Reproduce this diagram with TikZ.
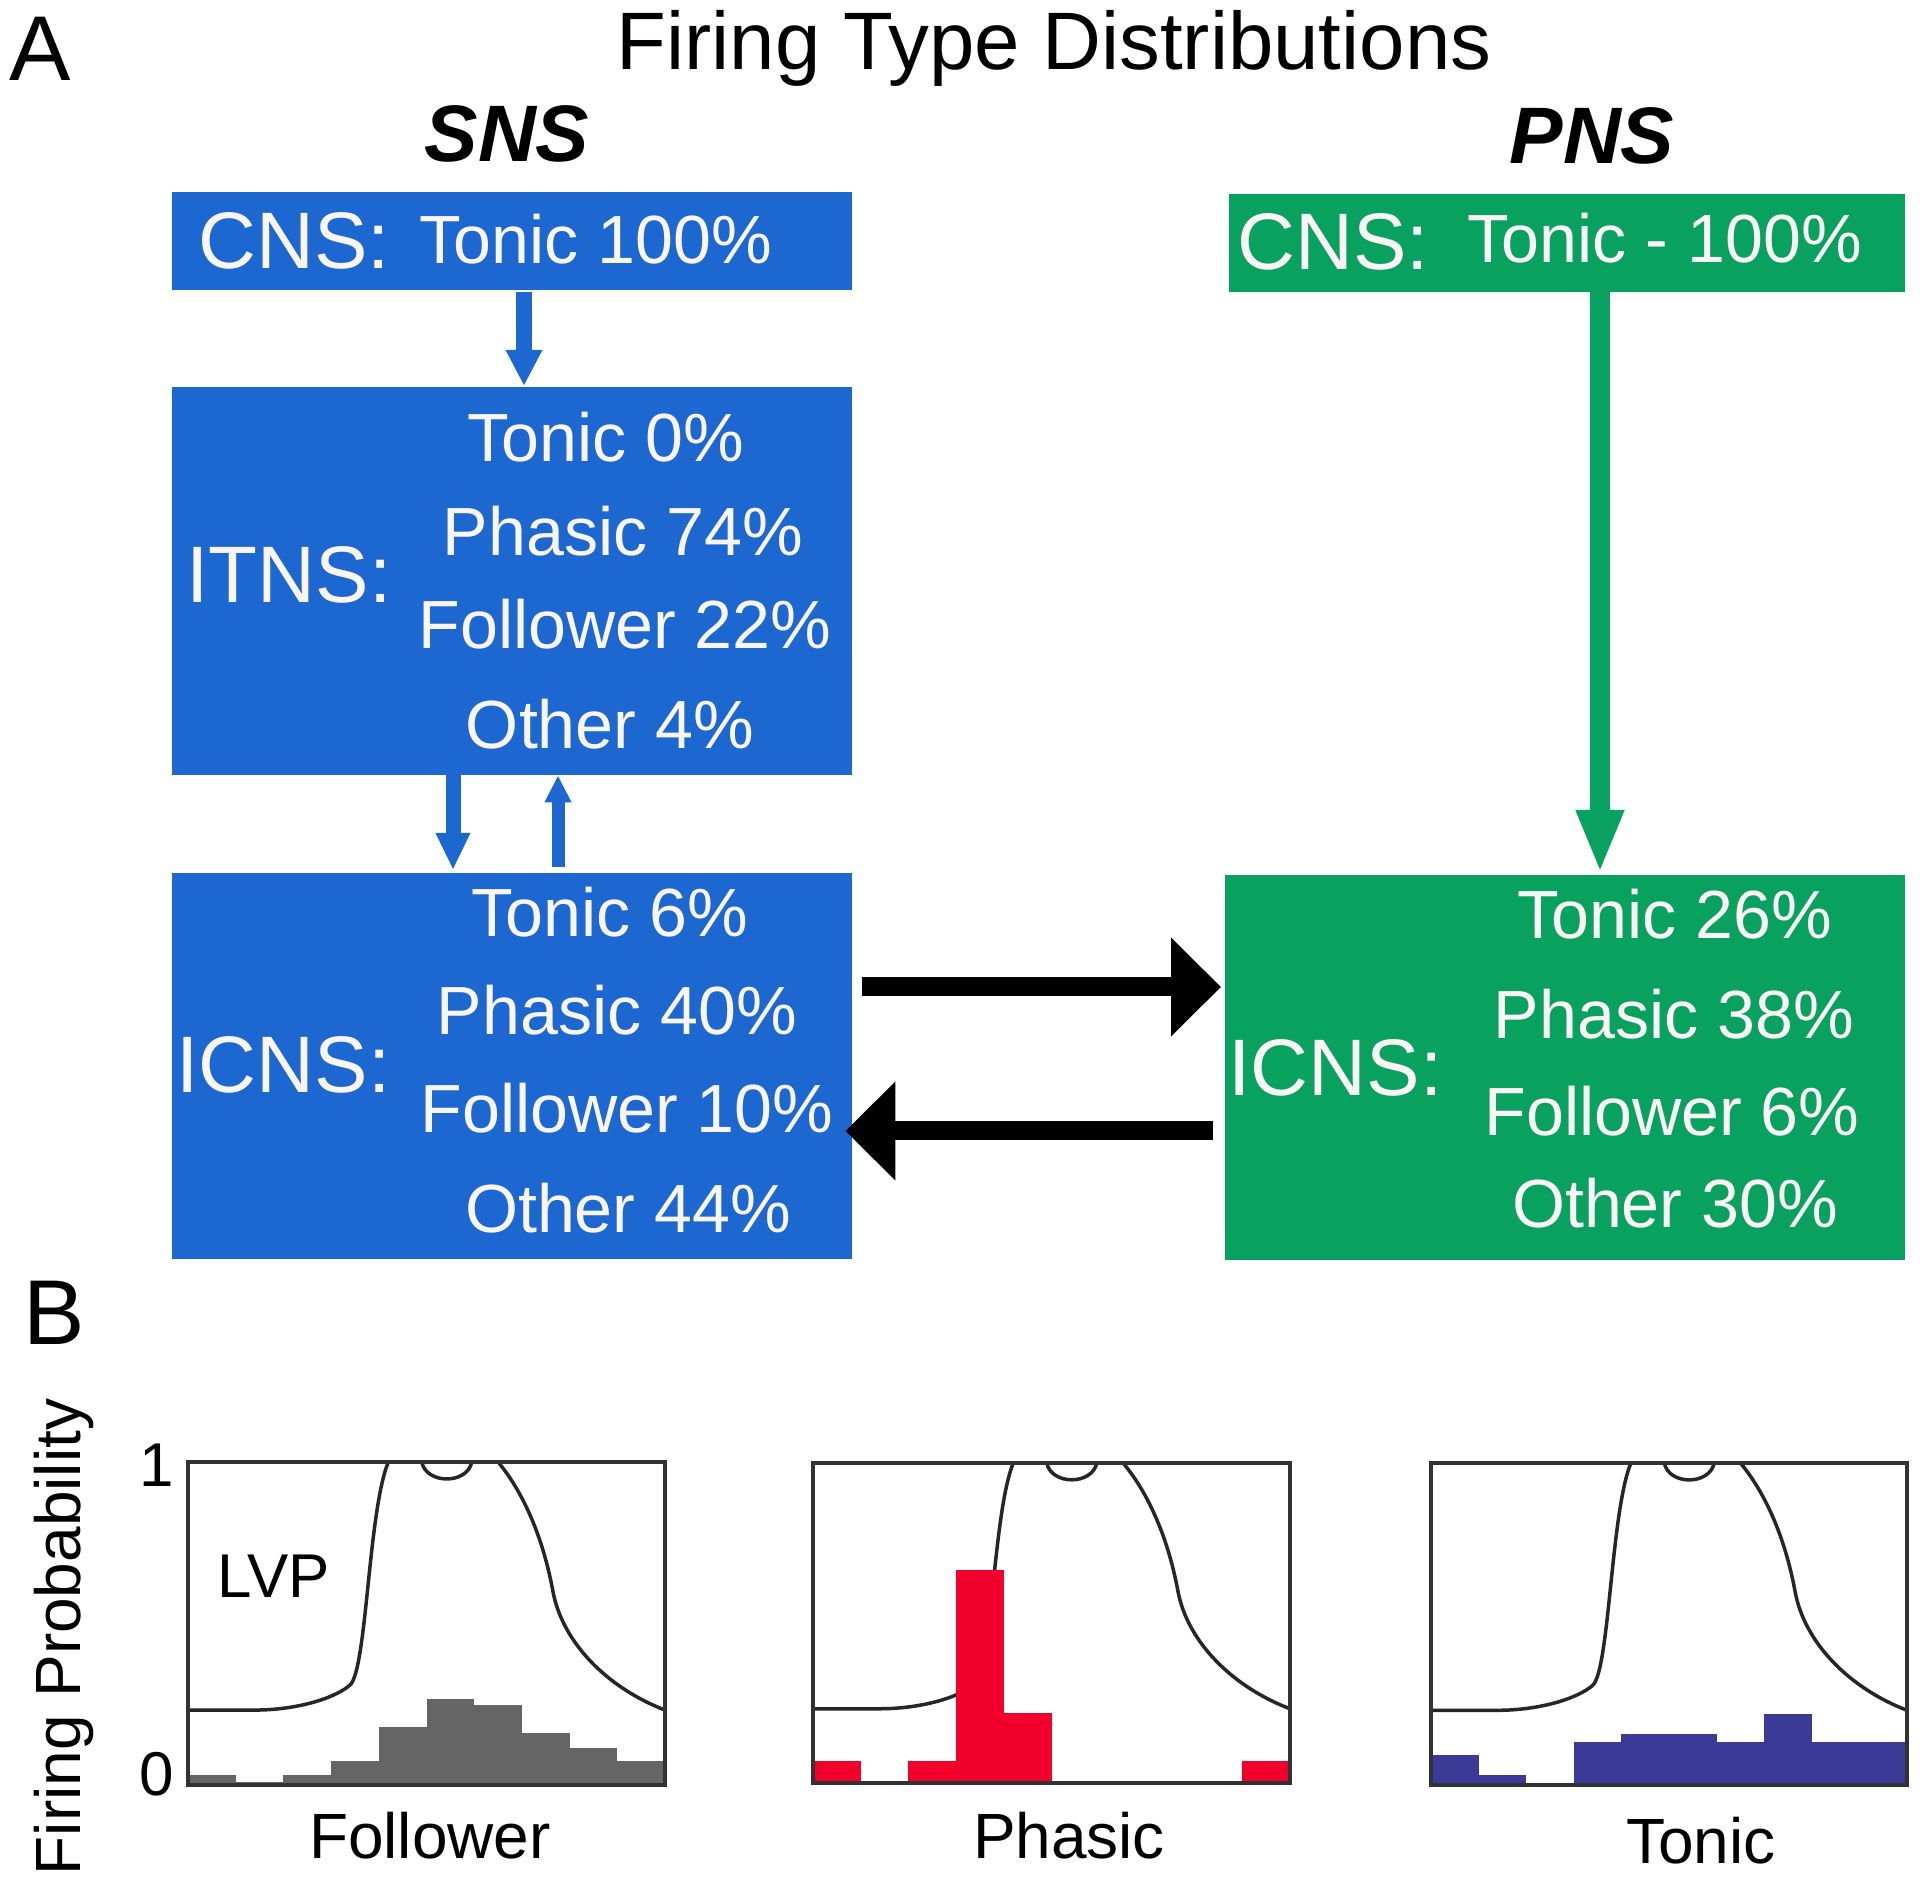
\documentclass[tikz,border=0pt]{standalone}
\usepackage{fontspec}
\setmainfont{Liberation Sans}
\usetikzlibrary{arrows.meta}

\definecolor{snsblue}{RGB}{28,104,208}
\definecolor{pnsgreen}{RGB}{9,161,96}
\definecolor{boxtext}{RGB}{250,245,245}
\definecolor{followgray}{RGB}{100,101,100}
\definecolor{phasicred}{RGB}{240,0,42}
\definecolor{tonicblue}{RGB}{59,58,150}
\definecolor{framegray}{RGB}{50,50,50}

\newcommand{\fsz}[1]{\fontsize{#1}{#1}\selectfont}
% LVP trace, in plot units (10 bins wide, 1 high)
\newcommand{\lvpcurve}{%
  \draw[lvp] (0,0.232) -- (1.4,0.232)
    .. controls (2.3,0.232) and (3.1,0.27) .. (3.4,0.31)
    .. controls (3.75,0.36) and (3.78,0.85) .. (4.2,1)
    -- (4.9,1)
    .. controls (5,0.93) and (5.85,0.93) .. (5.95,1)
    -- (6.5,1)
    .. controls (6.9,0.93) and (7.4,0.8) .. (7.65,0.6)
    .. controls (7.85,0.44) and (8.8,0.3) .. (10,0.232);}

\tikzset{
  box/.style={inner sep=0pt, anchor=north west},
  snsbox/.style={box, fill=snsblue},
  pnsbox/.style={box, fill=pnsgreen},
  boxlbl/.style={inner sep=0pt, anchor=base west, text=boxtext, font=\fsz{22.8pt}},
  boxitem/.style={inner sep=0pt, anchor=base, text=boxtext, font=\fsz{19.4pt}},
  panel/.style={inner sep=0pt, anchor=base west, font=\fsz{26.2pt}},
  title/.style={inner sep=0pt, anchor=base, font=\fsz{23.2pt}},
  side/.style={inner sep=0pt, anchor=base, font=\fsz{22.8pt}\bfseries\itshape},
  plotlbl/.style={inner sep=0pt, anchor=base, font=\fsz{18.2pt}},
  ticklbl/.style={inner sep=0pt, anchor=base east, font=\fsz{17.6pt}},
  lvp/.style={draw=black!85, line width=0.35mm},
  plotframe/.style={draw=framegray, line width=0.45mm},
  bluearrow/.style={snsblue, line width=1.6mm, -{Triangle[width=3.4mm, length=3.6mm]}},
  greenarrow/.style={pnsgreen, line width=2mm, -{Triangle[width=4.4mm, length=6.3mm]}},
  blackarrow/.style={black, line width=1.9mm, -{Triangle[width=9.6mm, length=5mm]}}
}

\begin{document}
\begin{tikzpicture}[x=0.1mm, y=-0.1mm]
  \useasboundingbox (0,0) rectangle (1920,1893);

  % panel A
  \node[panel] (pa) at (9,81) {A};
  \node[title] (ttl) at (1054,70) {Firing Type Distributions};
  \node[side] (sns) at (507,162) {SNS};
  \node[side] (pns) at (1592,164) {PNS};

  % SNS column
  \node[snsbox, minimum width=68mm, minimum height=9.8mm] (snscns) at (171,191) {};
  \node[boxlbl] (snscnslbl) at (198,269) {CNS:};
  \node[boxitem, anchor=base west] (snscnsval) at (419,264) {Tonic 100\%};

  \node[snsbox, minimum width=68mm, minimum height=38.8mm] (snsitns) at (171,386) {};
  \node[boxlbl] (snsitnslbl) at (186,603) {ITNS:};
  \node[boxitem] (itns1) at (606,462) {Tonic 0\%};
  \node[boxitem] (itns2) at (623,556) {Phasic 74\%};
  \node[boxitem] (itns3) at (625,649) {Follower 22\%};
  \node[boxitem] (itns4) at (610,749) {Other 4\%};

  \node[snsbox, minimum width=68mm, minimum height=38.6mm] (snsicns) at (171,872) {};
  \node[boxlbl] (snsicnslbl) at (176,1093) {ICNS:};
  \node[boxitem] (sicns1) at (610,937) {Tonic 6\%};
  \node[boxitem] (sicns2) at (617,1035) {Phasic 40\%};
  \node[boxitem] (sicns3) at (627,1133) {Follower 10\%};
  \node[boxitem] (sicns4) at (628,1233) {Other 44\%};

  % PNS column
  \node[pnsbox, minimum width=67.6mm, minimum height=9.8mm] (pnscns) at (1228,193) {};
  \node[boxlbl] (pnscnslbl) at (1237,270) {CNS:};
  \node[boxitem, anchor=base west] (pnscnsval) at (1467,263) {Tonic - 100\%};

  \node[pnsbox, minimum width=68mm, minimum height=38.5mm] (pnsicns) at (1224,874) {};
  \node[boxlbl] (pnsicnslbl) at (1228,1096) {ICNS:};
  \node[boxitem] (picns1) at (1675,939) {Tonic 26\%};
  \node[boxitem] (picns2) at (1674,1039) {Phasic 38\%};
  \node[boxitem] (picns3) at (1672,1136) {Follower 6\%};
  \node[boxitem] (picns4) at (1675,1228) {Other 30\%};

  % connectors
  \coordinate (xa) at (524,0);
  \coordinate (xb) at (453,0);
  \coordinate (xc) at (558,0);
  \coordinate (xd) at (1600,0);
  \coordinate (ya) at (0,987);
  \coordinate (yb) at (0,1131);
  \draw[bluearrow, shorten <=0.2mm] (snscns.south -| xa) -- (snsitns.north -| xa);
  \draw[bluearrow, line width=1.5mm, -{Triangle[width=3.2mm, length=3.7mm]}, shorten >=0.2mm]
    (snsitns.south -| xb) -- (snsicns.north -| xb);
  \draw[bluearrow, line width=1.3mm, -{Triangle[width=2.5mm, length=2.7mm]}, shorten <=0.5mm]
    (snsicns.north -| xc) -- (snsitns.south -| xc);
  \draw[greenarrow, shorten >=0.1mm] (pnscns.south -| xd) -- (pnsicns.north -| xd);
  \draw[blackarrow, shorten <=1mm, shorten >=0.3mm] (snsicns.east |- ya) -- (pnsicns.west |- ya);
  \draw[blackarrow, shorten <=1.1mm, shorten >=-0.7mm] (pnsicns.west |- yb) -- (snsicns.east |- yb);

  % panel B
  \node[panel] (pb) at (23,1345) {B};
  \node[plotlbl, rotate=90] (yaxis) at (80,1637) {Firing Probability};
  \node[ticklbl] (tick1) at (175,1487) {1};
  \node[ticklbl] (tick0) at (175,1795) {0};

  \begin{scope}[shift={(188,1785)}, x=4.77mm, y=32.3mm]
    \lvpcurve
    \foreach \h [count=\i] in {0.03,0.01,0.03,0.075,0.18,0.266,0.248,0.16,0.115,0.073}
      \fill[followgray] (\i-1,0) rectangle (\i,\h);
    \draw[plotframe] (0,0) rectangle (10,1);
  \end{scope}
  \node[inner sep=0pt, anchor=base west, font=\fsz{17.6pt}] (lvplbl) at (217,1597) {LVP};

  \begin{scope}[shift={(813,1783)}, x=4.77mm, y=32mm]
    \lvpcurve
    \foreach \h [count=\i] in {0.07,0,0.07,0.667,0.22,0,0,0,0,0.07}
      \fill[phasicred] (\i-1,0) rectangle (\i,\h);
    \draw[plotframe] (0,0) rectangle (10,1);
  \end{scope}

  \begin{scope}[shift={(1431,1785)}, x=4.76mm, y=32.2mm]
    \lvpcurve
    \foreach \h [count=\i] in {0.092,0.03,0,0.134,0.157,0.157,0.134,0.22,0.134,0.134}
      \fill[tonicblue] (\i-1,0) rectangle (\i,\h);
    \draw[plotframe] (0,0) rectangle (10,1);
  \end{scope}

  \node[plotlbl] (follbl) at (430,1858) {Follower};
  \node[plotlbl] (phalbl) at (1069,1858) {Phasic};
  \node[plotlbl] (tonlbl) at (1701,1863) {Tonic};
\end{tikzpicture}
\end{document}
